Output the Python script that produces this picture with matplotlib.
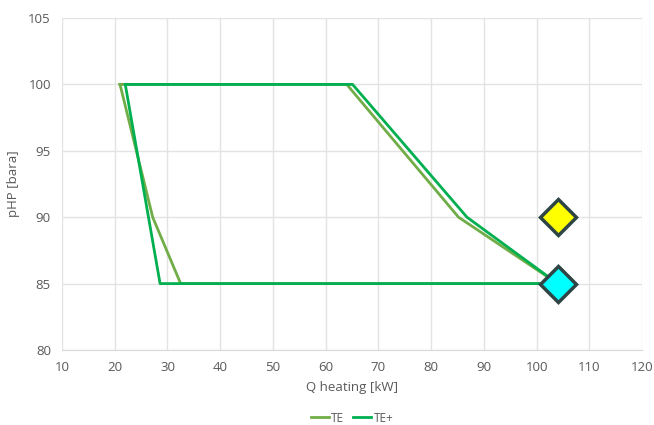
import matplotlib.pyplot as plt

# data
te_q = [21, 27.2, 32.5, 104, 85.2, 64, 21]
te_p = [100, 90, 85, 85, 90, 100, 100]
teplus_q = [22, 28.6, 104, 86.8, 65.1, 22]
teplus_p = [100, 85, 85, 90, 100, 100]
pt_yellow = (104, 90)
pt_cyan = (104, 85)

plt.rcParams['font.family'] = ['Open Sans', 'DejaVu Sans']
txt = '#595959'

fig = plt.figure(figsize=(6.54, 4.25), dpi=100)
ax = fig.add_axes([0.0948, 0.1765, 0.8869, 0.7811])

ax.plot(te_q, te_p, color='#70AD47', lw=2, label='TE', zorder=3)
ax.plot(teplus_q, teplus_p, color='#00B050', lw=2, label='TE+', zorder=3)
ax.plot(*pt_yellow, marker='D', ms=18, mfc='#FFFF00', mec='#2F4545', mew=2.5, zorder=4)
ax.plot(*pt_cyan, marker='D', ms=18, mfc='#00FFFF', mec='#2F4545', mew=2.5, zorder=4)

ax.set_xlim(10, 120)
ax.set_ylim(80, 105)
ax.set_xticks(range(10, 121, 10))
ax.set_yticks(range(80, 106, 5))
ax.grid(True, color='#E3E3E3', lw=1)
ax.set_axisbelow(True)
for s in ['top', 'right', 'left']:
    ax.spines[s].set_visible(False)
ax.spines['bottom'].set_color('#D9D9D9')
ax.tick_params(length=0, labelsize=9.5, colors=txt, pad=8)

ax.set_xlabel('Q heating [kW]', fontsize=9.5, color=txt, labelpad=5)
ax.set_ylabel('pHP [bara]', fontsize=9.5, color=txt, labelpad=6)

ax.legend(loc='center', bbox_to_anchor=(0.5, -0.205), ncol=2, frameon=False,
          fontsize=8.5, handlelength=1.5, handletextpad=0.2, columnspacing=0.8,
          labelcolor=txt, borderpad=0.1)

plt.savefig('out.png', dpi=100)
